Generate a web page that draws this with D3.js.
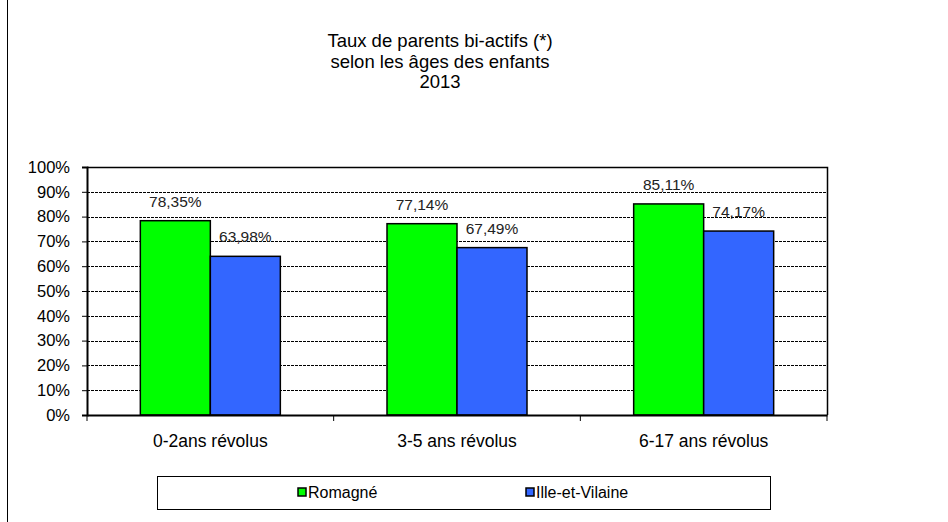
<!DOCTYPE html>
<html>
<head>
<meta charset="utf-8">
<script src="https://cdn.jsdelivr.net/npm/d3@7"></script>
<style>
  body { margin: 0; background: #fff; }
  text { font-family: "Liberation Sans", Arial, sans-serif; }
</style>
</head>
<body>
<div id="container"></div>
<script>
/* DATA */
const categories = ["0-2ans révolus", "3-5 ans révolus", "6-17 ans révolus"];
const series = ["Romagné", "Ille-et-Vilaine"];
const romagne = [0.7835, 0.7714, 0.8511];
const illeEtVilaine = [0.6398, 0.6749, 0.7417];
const valueLabels = [["78,35%", "77,14%", "85,11%"], ["63,98%", "67,49%", "74,17%"]];
const yTicks = [0, 0.1, 0.2, 0.3, 0.4, 0.5, 0.6, 0.7, 0.8, 0.9, 1];
const titleLines = ["Taux de parents bi-actifs (*)", "selon les âges des enfants", "2013"];

const colors = { "Romagné": "#00ff00", "Ille-et-Vilaine": "#3366ff" };

const width = 948, height = 522,
  margin = { top: 167, bottom: 107, left: 87, right: 121 };

const svg = d3.select('#container')
  .append('svg')
  .attr('width', width)
  .attr('height', height);

// left frame line
svg.append('line')
  .attr('x1', 7.5).attr('x2', 7.5)
  .attr('y1', 0).attr('y2', height)
  .attr('stroke', '#000').attr('stroke-width', 1);

// title
svg.append('g')
  .selectAll('text')
  .data(titleLines)
  .join('text')
  .attr('x', 440)
  .attr('y', (d, i) => 47 + i * 20.5)
  .attr('text-anchor', 'middle')
  .attr('font-size', 18.5)
  .attr('fill', '#000')
  .text(d => d);

/* SCALES */
const x0 = d3.scaleBand()
  .domain(categories)
  .range([margin.left, width - margin.right])
  .padding(0);

const groupWidth = 140;
const x1 = d3.scaleBand()
  .domain(series)
  .range([0, groupWidth]);

const y = d3.scaleLinear()
  .domain([0, 1])
  .range([height - margin.bottom, margin.top]);

const table = categories.map((c, i) => ({
  category: c,
  values: [
    { key: series[0], value: romagne[i], label: valueLabels[0][i] },
    { key: series[1], value: illeEtVilaine[i], label: valueLabels[1][i] }
  ]
}));

// gridlines
svg.append('g')
  .selectAll('line')
  .data(yTicks.filter(d => d > 0 && d < 1))
  .join('line')
  .attr('x1', margin.left).attr('x2', width - margin.right)
  .attr('y1', d => Math.round(y(d)) + 0.5).attr('y2', d => Math.round(y(d)) + 0.5)
  .attr('stroke', '#000')
  .attr('stroke-width', 1)
  .attr('stroke-dasharray', '3,1');

// plot frame top and right
svg.append('path')
  .attr('d', `M${margin.left},${y(1) + 0.5}H${width - margin.right + 0.5}V${y(0)}`)
  .attr('fill', 'none')
  .attr('stroke', '#000')
  .attr('stroke-width', 1.5);

// bars
const groups = svg.append('g')
  .selectAll('g')
  .data(table)
  .join('g')
  .attr('transform', d => `translate(${x0(d.category) + (x0.bandwidth() - groupWidth) / 2},0)`);

groups.selectAll('rect')
  .data(d => d.values)
  .join('rect')
  .attr('x', d => x1(d.key))
  .attr('y', d => y(d.value))
  .attr('width', x1.bandwidth())
  .attr('height', d => y(0) - y(d.value))
  .attr('fill', d => colors[d.key])
  .attr('stroke', '#000')
  .attr('stroke-width', 1.5);

groups.selectAll('text')
  .data(d => d.values)
  .join('text')
  .attr('x', d => x1(d.key) + x1.bandwidth() / 2)
  .attr('y', d => y(d.value) - 14)
  .attr('text-anchor', 'middle')
  .attr('font-size', 15.5)
  .attr('fill', '#222')
  .text(d => d.label);

/* AXES */
const yAxis = d3.axisLeft(y)
  .tickValues(yTicks)
  .tickFormat(d => Math.round(d * 100) + '%')
  .tickSize(5)
  .tickPadding(12);

const gy = svg.append('g')
  .attr('transform', `translate(${margin.left},0)`)
  .call(yAxis);
gy.select('.domain').attr('stroke-width', 2);
gy.selectAll('.tick text').attr('font-size', 16.5).attr('fill', '#000')
  .style('font-family', '"Liberation Sans", Arial, sans-serif');

const xAxis = d3.axisBottom(x0).tickSize(0).tickPadding(20);
const gx = svg.append('g')
  .attr('transform', `translate(0,${y(0)})`)
  .call(xAxis);
gx.select('.domain').attr('stroke-width', 2);
gx.selectAll('.tick text').attr('font-size', 17.5).attr('fill', '#000')
  .style('font-family', '"Liberation Sans", Arial, sans-serif');

// category boundary ticks
gx.append('g')
  .selectAll('line')
  .data(categories.map(c => x0(c)).concat([width - margin.right]))
  .join('line')
  .attr('x1', d => d).attr('x2', d => d)
  .attr('y1', 0).attr('y2', 6)
  .attr('stroke', '#000');

/* LEGEND */
const legend = svg.append('g');
legend.append('rect')
  .attr('x', 157.5).attr('y', 476.5)
  .attr('width', 613).attr('height', 33)
  .attr('fill', '#fff')
  .attr('stroke', '#000');

const legendX = [298, 526];
const items = legend.selectAll('g.item')
  .data(series)
  .join('g')
  .attr('class', 'item')
  .attr('transform', (d, i) => `translate(${legendX[i]},488)`);

items.append('rect')
  .attr('width', 8).attr('height', 8)
  .attr('fill', d => colors[d])
  .attr('stroke', '#000')
  .attr('stroke-width', 1.5);

items.append('text')
  .attr('x', 10)
  .attr('y', 10)
  .attr('font-size', 16)
  .attr('fill', '#000')
  .text(d => d);
</script>
</body>
</html>
